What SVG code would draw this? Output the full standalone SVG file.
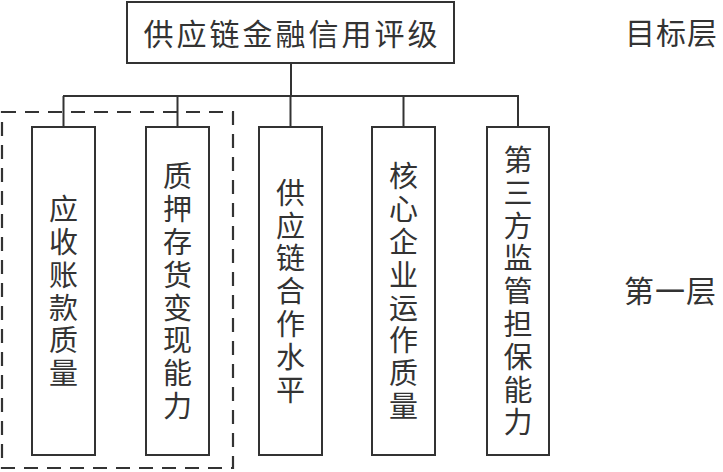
<svg xmlns="http://www.w3.org/2000/svg" width="723" height="472" viewBox="0 0 723 472">
<style>
.box{fill:#fff;stroke:#333;stroke-width:2}
.ln{fill:none;stroke:#333;stroke-width:2}
.dash{fill:none;stroke:#333;stroke-width:2.2;stroke-dasharray:14 9}
text{font-family:"Noto Sans CJK SC","Noto Sans",sans-serif;fill:#333}
.h{dominant-baseline:central}
.v{font-size:29px;text-anchor:middle;writing-mode:vertical-rl;letter-spacing:3.8px}
</style>
<rect width="723" height="472" fill="#fff"/>
<g id="connectors">
<line class="ln" x1="291" y1="63" x2="291" y2="96"/>
<line class="ln" x1="63" y1="96" x2="519" y2="96"/>
<line class="ln" x1="63.5" y1="96" x2="63.5" y2="127"/>
<line class="ln" x1="177.5" y1="96" x2="177.5" y2="127"/>
<line class="ln" x1="290.5" y1="96" x2="290.5" y2="127"/>
<line class="ln" x1="403.5" y1="96" x2="403.5" y2="127"/>
<line class="ln" x1="518" y1="96" x2="518" y2="127"/>
</g>
<g id="group-dashed">
<rect class="dash" x="2" y="112" width="231" height="356"/>
</g>
<g id="root">
<rect class="box" x="127" y="2" width="327" height="61"/>
<text class="h" x="292" y="32" style="font-size:30px;letter-spacing:3px;text-anchor:middle">供应链金融信用评级</text>
</g>
<g id="n1">
<rect class="box" x="32" y="127" width="63" height="328"/>
<text class="v" x="63.5" y="293">应收账款质量</text>
</g>
<g id="n2">
<rect class="box" x="146" y="127" width="63" height="328"/>
<text class="v" x="177.5" y="293">质押存货变现能力</text>
</g>
<g id="n3">
<rect class="box" x="259" y="127" width="63" height="328"/>
<text class="v" x="290.5" y="293">供应链合作水平</text>
</g>
<g id="n4">
<rect class="box" x="372" y="127" width="63" height="328"/>
<text class="v" x="403.5" y="293">核心企业运作质量</text>
</g>
<g id="n5">
<rect class="box" x="487" y="127" width="62" height="328"/>
<text class="v" x="518" y="293">第三方监管担保能力</text>
</g>
<g id="labels">
<text class="h" x="625" y="31" style="font-size:30px;letter-spacing:1px">目标层</text>
<text class="h" x="624" y="289" style="font-size:30px;letter-spacing:1px">第一层</text>
</g>
</svg>
